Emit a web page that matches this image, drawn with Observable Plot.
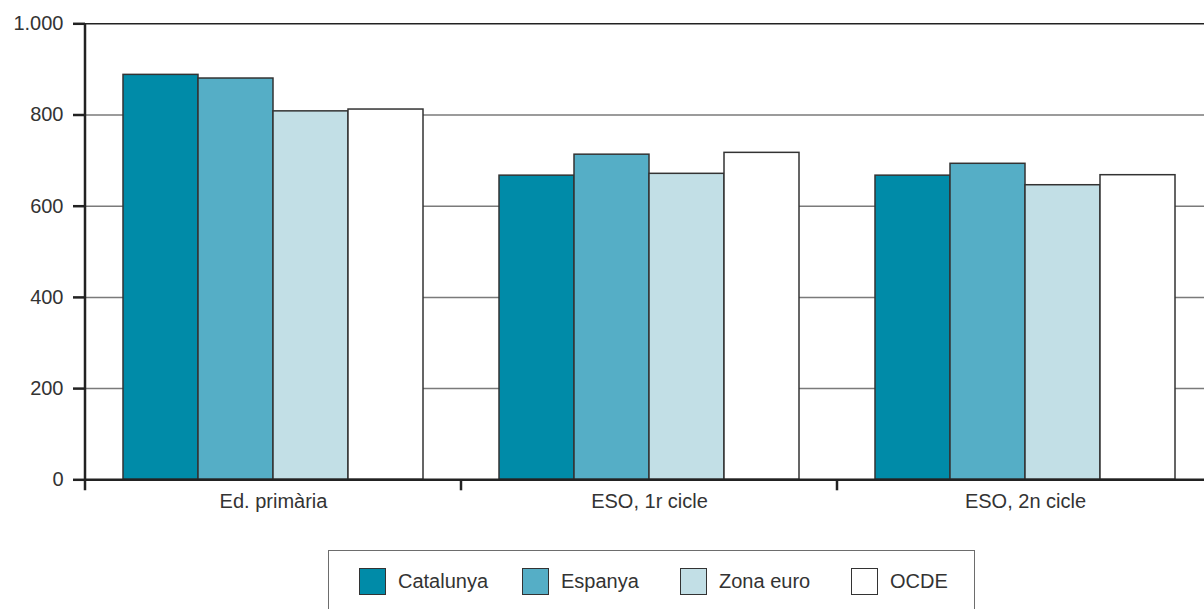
<!DOCTYPE html>
<html><head><meta charset="utf-8">
<script src="https://cdn.jsdelivr.net/npm/d3@7"></script>
<script src="https://cdn.jsdelivr.net/npm/@observablehq/plot@0.6"></script>
<style>
html,body{margin:0;padding:0;background:#fff;overflow:hidden;font-family:"Liberation Sans",Arial,sans-serif;}
#chart{position:relative;width:1204px;height:609px;overflow:hidden}
#legend{position:absolute;left:328px;top:550px;width:647px;height:90px;border:1.5px solid #6d6d6d;box-sizing:border-box;background:#fff}
.item{position:absolute;top:17px;display:flex;align-items:center;font-size:20px;color:#333;white-space:nowrap}
.sw{width:27px;height:27px;box-sizing:border-box;border:1.5px solid #333;margin-right:12px}
</style></head><body><div id="chart"></div>
<script>
const categories = ["Ed. primària", "ESO, 1r cicle", "ESO, 2n cicle"];
const seriesNames = ["Catalunya", "Espanya", "Zona euro", "OCDE"];
const catalunya = [888, 667, 667];
const espanya = [880, 713, 693];
const zonaEuro = [808, 671, 646];
const ocde = [812, 717, 668];
const colors = ["#008ba8", "#55aec6", "#c2dfe6", "#ffffff"];
const yTicks = [0, 200, 400, 600, 800, 1000];
const gridValues = [200, 400, 600, 800];
const topValue = [1000];
const legendLeft = [30, 193, 351, 522];

const seriesValues = [catalunya, espanya, zonaEuro, ocde];
const data = categories.flatMap((c, i) => seriesNames.map((s, j) => ({category: c, series: s, value: seriesValues[j][i]})));
const fmt = d3.formatLocale({decimal: ",", thousands: ".", grouping: [3], currency: ["", "€"]}).format(",");

const chart = Plot.plot({
  width: 1204, height: 530,
  marginLeft: 84, marginRight: -10, marginTop: 23.3, marginBottom: 50.7,
  style: {fontFamily: "Liberation Sans, Arial, sans-serif", fontSize: "20px", color: "#333", background: "#fff"},
  fx: {domain: categories, padding: 0, label: null, axis: null},
  x: {domain: seriesNames, paddingInner: 0, paddingOuter: 0.494, axis: null},
  y: {domain: [0, 1000], label: null},
  color: {domain: seriesNames, range: colors},
  marks: [
    Plot.ruleY(gridValues, {stroke: "#7a7a7a", strokeWidth: 1.5}),
    Plot.ruleY(topValue, {stroke: "#222", strokeWidth: 1.5}),
    Plot.barY(data, {fx: "category", x: "series", y: "value", fill: "series", stroke: "#333", strokeWidth: 1.5}),
    Plot.ruleY([0], {stroke: "#222", strokeWidth: 2.5}),
    Plot.axisY({ticks: yTicks, tickSize: 12, tickPadding: 10, tickFormat: fmt, stroke: "#222", strokeWidth: 2.5, fontSize: 20, label: null}),
    Plot.axisFx({anchor: "bottom", tickSize: 0, tickPadding: 14, fontSize: 20, label: null})
  ]
});

const host = document.getElementById("chart");
host.appendChild(chart);
const svg = d3.select(chart.tagName.toLowerCase() === "svg" ? chart : chart.querySelector("svg"));
const fxs = chart.scale("fx"), ys = chart.scale("y");
const y0 = ys.apply(0), yTop = ys.apply(1000);
const left = fxs.apply(categories[0]);
svg.append("line").attr("x1", left).attr("x2", left).attr("y1", yTop).attr("y2", y0 + 11)
  .attr("stroke", "#222").attr("stroke-width", 2.5);
categories.slice(1).forEach(c => {
  const x = fxs.apply(c);
  svg.append("line").attr("x1", x).attr("x2", x).attr("y1", y0).attr("y2", y0 + 11)
    .attr("stroke", "#222").attr("stroke-width", 2.5);
});

const legend = document.createElement("div");
legend.id = "legend";
seriesNames.forEach((s, i) => {
  const it = document.createElement("div");
  it.className = "item";
  it.style.left = legendLeft[i] + "px";
  const sw = document.createElement("div");
  sw.className = "sw";
  sw.style.background = colors[i];
  const t = document.createElement("span");
  t.textContent = s;
  it.appendChild(sw); it.appendChild(t);
  legend.appendChild(it);
});
host.appendChild(legend);
</script></body></html>
